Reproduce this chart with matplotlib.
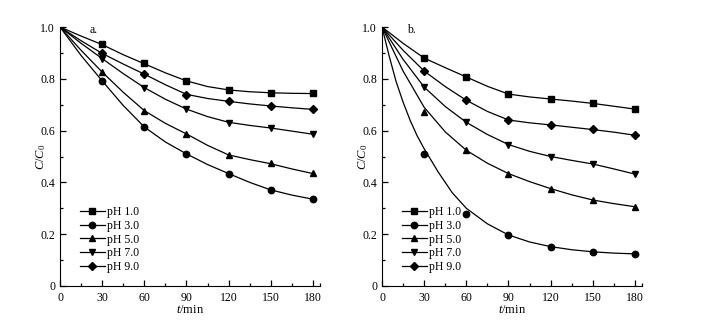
import matplotlib
matplotlib.use('Agg')
import matplotlib.pyplot as plt
from matplotlib.lines import Line2D
from matplotlib.ticker import FixedLocator

# measured points
t_pts = [0, 30, 60, 90, 120, 150, 180]
a_ph1 = [1.0, 0.933, 0.860, 0.793, 0.757, 0.746, 0.744]
a_ph3 = [1.0, 0.792, 0.614, 0.510, 0.434, 0.371, 0.335]
a_ph5 = [1.0, 0.826, 0.677, 0.587, 0.505, 0.474, 0.435]
a_ph7 = [1.0, 0.878, 0.766, 0.682, 0.631, 0.611, 0.586]
a_ph9 = [1.0, 0.898, 0.819, 0.739, 0.714, 0.695, 0.682]

b_ph1 = [1.0, 0.880, 0.808, 0.741, 0.723, 0.705, 0.683]
b_ph3 = [1.0, 0.508, 0.277, 0.196, 0.151, 0.130, 0.124]
b_ph5 = [1.0, 0.672, 0.524, 0.434, 0.376, 0.332, 0.306]
b_ph7 = [1.0, 0.770, 0.632, 0.546, 0.499, 0.471, 0.432]
b_ph9 = [1.0, 0.830, 0.718, 0.641, 0.623, 0.605, 0.582]

# fitted curves
t_fit = [0, 15, 30, 45, 60, 75, 90, 105, 120, 135, 150, 165, 180]
a_ph1_fit = [1.0, 0.965, 0.932, 0.893, 0.858, 0.823, 0.792, 0.770, 0.757, 0.750, 0.746, 0.744, 0.743]
a_ph3_fit = [1.0, 0.890, 0.792, 0.697, 0.614, 0.556, 0.510, 0.469, 0.434, 0.400, 0.371, 0.351, 0.335]
a_ph5_fit = [1.0, 0.910, 0.826, 0.748, 0.677, 0.628, 0.587, 0.543, 0.506, 0.488, 0.472, 0.452, 0.434]
a_ph7_fit = [1.0, 0.937, 0.878, 0.820, 0.766, 0.721, 0.683, 0.654, 0.632, 0.620, 0.610, 0.598, 0.586]
a_ph9_fit = [1.0, 0.947, 0.898, 0.857, 0.818, 0.777, 0.740, 0.724, 0.713, 0.703, 0.695, 0.688, 0.682]

b_ph1_fit = [1.0, 0.937, 0.880, 0.843, 0.807, 0.771, 0.741, 0.730, 0.722, 0.714, 0.705, 0.694, 0.683]
b_ph5_fit = [1.0, 0.830, 0.690, 0.595, 0.524, 0.474, 0.434, 0.403, 0.376, 0.352, 0.332, 0.318, 0.306]
b_ph7_fit = [1.0, 0.875, 0.768, 0.693, 0.632, 0.585, 0.546, 0.520, 0.500, 0.485, 0.471, 0.452, 0.432]
b_ph9_fit = [1.0, 0.910, 0.830, 0.770, 0.717, 0.674, 0.641, 0.630, 0.622, 0.613, 0.604, 0.594, 0.582]
t_fit_b3 = [0, 5, 10, 15, 20, 25, 30, 40, 50, 60, 75, 90, 105, 120, 135, 150, 165, 180]
b_ph3_fit = [1.0, 0.89, 0.79, 0.71, 0.64, 0.58, 0.53, 0.44, 0.36, 0.30, 0.24, 0.197,
             0.170, 0.152, 0.140, 0.132, 0.127, 0.124]

labels = ['pH 1.0', 'pH 3.0', 'pH 5.0', 'pH 7.0', 'pH 9.0']
markers = ['s', 'o', '^', 'v', 'D']
x_ticks = [0, 30, 60, 90, 120, 150, 180]
y_ticks = [0, 0.2, 0.4, 0.6, 0.8, 1.0]
y_tick_labels = ['0', '0.2', '0.4', '0.6', '0.8', '1.0']

plt.rcParams['font.family'] = 'Liberation Serif'
plt.rcParams['mathtext.fontset'] = 'custom'
plt.rcParams['mathtext.rm'] = 'Liberation Serif'
plt.rcParams['mathtext.it'] = 'Liberation Serif:italic'

fig = plt.figure(figsize=(7.21, 3.26), dpi=100, facecolor='white')
ax_a = fig.add_axes([60 / 721, 40 / 326, 260 / 721, 259 / 326])
ax_b = fig.add_axes([382 / 721, 40 / 326, 260 / 721, 259 / 326])

panels = [
    (ax_a, 'a.', 21, [a_ph1, a_ph3, a_ph5, a_ph7, a_ph9],
     [(t_fit, a_ph1_fit), (t_fit, a_ph3_fit), (t_fit, a_ph5_fit),
      (t_fit, a_ph7_fit), (t_fit, a_ph9_fit)]),
    (ax_b, 'b.', 18, [b_ph1, b_ph3, b_ph5, b_ph7, b_ph9],
     [(t_fit, b_ph1_fit), (t_fit_b3, b_ph3_fit), (t_fit, b_ph5_fit),
      (t_fit, b_ph7_fit), (t_fit, b_ph9_fit)]),
]

for ax, tag, tag_x, pts, fits in panels:
    for (tf, yf), yp, m in zip(fits, pts, markers):
        ax.plot(tf, yf, color='black', lw=0.9)
        ms = 4.0 if m == 'D' else 4.6
        ax.plot(t_pts[1:], yp[1:], ls='none', marker=m, color='black', ms=ms)
    ax.set_xlim(0, 185)
    ax.set_ylim(0, 1.0)
    for s in ['top', 'right']:
        ax.spines[s].set_visible(False)
    ax.set_xticks(x_ticks)
    ax.xaxis.set_minor_locator(FixedLocator([15, 45, 75, 105, 135, 165, 185]))
    ax.set_yticks(y_ticks, y_tick_labels)
    ax.yaxis.set_minor_locator(FixedLocator([0.1, 0.3, 0.5, 0.7, 0.9]))
    ax.tick_params(which='both', direction='in', labelsize=8.5, width=0.9)
    ax.tick_params(which='major', length=4)
    ax.tick_params(which='minor', length=2.5)
    ax.tick_params(axis='x', pad=4)
    ax.set_xlabel(r'$t$/min', fontsize=9, labelpad=0)
    ax.set_ylabel(r'$C/C_0$', fontsize=9)
    ax.yaxis.set_label_coords(-0.046, 0.5)
    ax.text(tag_x, 0.99, tag, fontsize=8.5, va='center', ha='left')
    handles = [Line2D([], [], color='black', lw=0.9, marker=m,
                      ms=(4.0 if m == 'D' else 4.6)) for m in markers]
    ax.legend(handles, labels, loc='lower left', bbox_to_anchor=(0.077, 0.05),
              frameon=False, fontsize=8.5, handlelength=2.1, handletextpad=0.2,
              labelspacing=0.15, borderpad=0, borderaxespad=0, numpoints=1)

fig.savefig('out.png', dpi=100, facecolor='white')
